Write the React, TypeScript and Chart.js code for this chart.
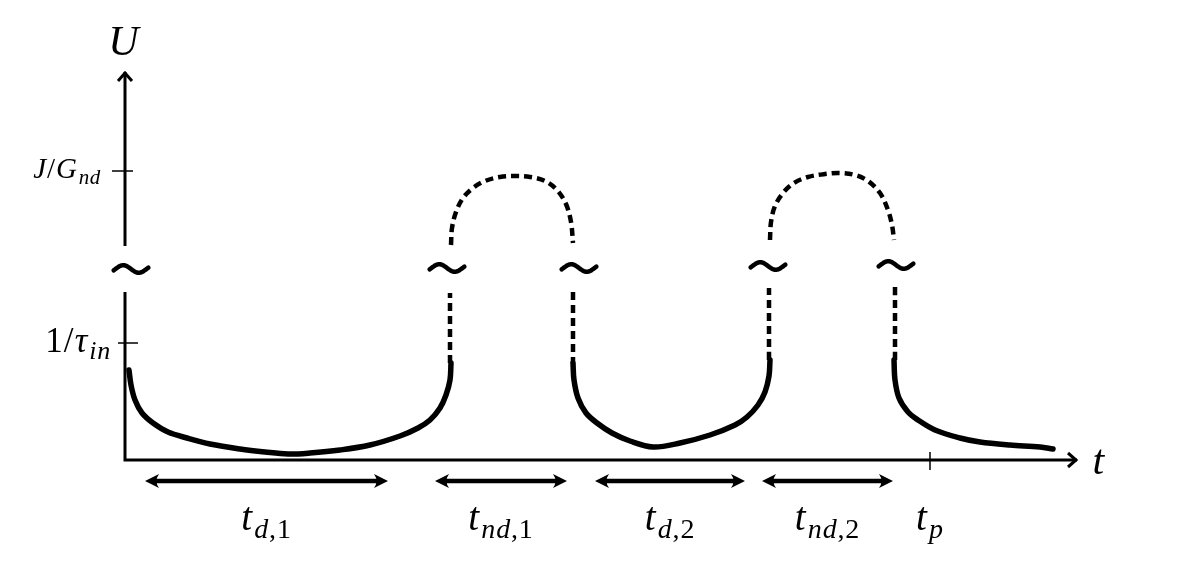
import React, { useEffect, useRef } from "react";
import { Chart, registerables } from "chart.js";

Chart.register(...registerables);

// ---------- data (t, U in arbitrary units) ----------
const curveDecay1 = [
  [0.4, 9.0], [0.6, 7.5], [1.0, 6.0], [1.7, 4.7], [2.8, 3.7], [4.3, 2.8], [6.2, 2.2],
  [8.5, 1.6], [11.5, 1.1], [14.0, 0.8], [16.3, 0.6], [18.5, 0.7], [21.5, 1.0], [24.5, 1.5],
  [27.5, 2.4], [29.3, 3.2], [30.5, 4.0], [31.5, 5.2], [32.1, 6.5], [32.5, 8.0], [32.6, 9.7],
];
const curveDecay2 = [
  [44.8, 9.7], [44.9, 8.0], [45.3, 6.2], [46.1, 4.7], [47.2, 3.7], [48.7, 2.7], [50.5, 1.9],
  [52.8, 1.3], [55.5, 1.7], [58.5, 2.5], [61.0, 3.5], [62.2, 4.3], [63.3, 5.5], [64.0, 6.8],
  [64.4, 8.4], [64.5, 10.0],
];
const curveDecay3 = [
  [76.9, 10.0], [77.0, 8.0], [77.4, 6.2], [78.3, 4.8], [79.3, 4.0], [81.0, 3.0], [83.5, 2.2],
  [85.5, 1.8], [88.5, 1.5], [91.5, 1.3], [92.8, 1.1],
];
const riseLow1a = [[32.5, 9.7], [32.5, 16.7]];
const riseArc1 = [
  [32.6, 21.5], [32.7, 23.2], [33.1, 24.8], [33.8, 26.2], [34.8, 27.2], [36.0, 27.9],
  [37.5, 28.3], [39.0, 28.4], [40.5, 28.3], [42.0, 27.9], [43.2, 27.0], [44.1, 25.6],
  [44.6, 23.8], [44.8, 21.7],
];
const riseLow1b = [[44.8, 16.8], [44.8, 9.7]];
const riseLow2a = [[64.4, 10.0], [64.4, 17.2]];
const riseArc2 = [
  [64.5, 22.0], [64.6, 23.8], [65.0, 25.4], [65.8, 26.7], [66.9, 27.7], [68.3, 28.3],
  [70.0, 28.6], [71.5, 28.7], [73.0, 28.5], [74.3, 27.9], [75.5, 26.7], [76.3, 25.0],
  [76.7, 23.5], [76.9, 22.0],
];
const riseLow2b = [[77.0, 17.3], [77.0, 10.0]];

// axis-break marks (~)
const breakMarks = [[0.6, 19.1], [32.2, 19.2], [45.4, 19.2], [64.3, 19.4], [77.1, 19.5]];

// y-axis ticks
const yTickValues = [28.9, 11.7];
const yTickLabels = ["J/G_nd", "1/τ_in"];
// x-axis ticks
const xTickValues = [80.5];
const xTickLabels = ["t_p"];

// intervals below the axis
const intervalStarts = [2.0, 31.0, 47.0, 63.7];
const intervalEnds = [26.3, 44.2, 62.0, 76.8];
const intervalLabels = ["t_d,1", "t_nd,1", "t_d,2", "t_nd,2"];

const axisLabels = ["t", "U"];
const yAxisTop = 38.8;
const xAxisEnd = 95.2;
const yBreakLow = 16.8;
const yBreakHigh = 21.4;
const intervalLevel = -2.1;
const labelLevel = -7.0;

// ---------- styles ----------
const W = 1200;
const H = 583;
const X_MIN = -12.5, X_MAX = 107.5, Y_MIN = -12.3, Y_MAX = 46.0;
const FONT = '"Liberation Serif", "DejaVu Serif", serif';
const yTickStyles = [
  { size: 29, sub: 21, gap: 11, left: 13, right: 8 },
  { size: 35, sub: 26, gap: 7, left: 7, right: 13 },
];
const LABEL_SIZE = 39;
const LABEL_SUB = 28;

function parseLabel(s: string) {
  const i = s.indexOf("_");
  return i < 0 ? { main: s, sub: "" } : { main: s.slice(0, i), sub: s.slice(i + 1) };
}
function fontFor(ch: string, size: number) {
  const upright = /[0-9\/,()]/.test(ch);
  return `${upright ? "" : "italic "}${size}px ${FONT}`;
}
function textWidth(ctx: CanvasRenderingContext2D, text: string, size: number) {
  let w = 0;
  for (const ch of text) {
    ctx.font = fontFor(ch, size);
    w += ctx.measureText(ch).width + size * 0.03;
  }
  return w;
}
function drawRun(ctx: CanvasRenderingContext2D, text: string, size: number, x: number, y: number) {
  let cx = x;
  for (const ch of text) {
    ctx.font = fontFor(ch, size);
    ctx.fillText(ch, cx, y);
    cx += ctx.measureText(ch).width + size * 0.03;
  }
  return cx;
}
function drawRich(
  ctx: CanvasRenderingContext2D, label: string, x: number, y: number,
  size: number, subSize: number, align: "left" | "center" | "right"
) {
  const { main, sub } = parseLabel(label);
  const wMain = textWidth(ctx, main, size);
  const wSub = sub ? textWidth(ctx, sub, subSize) + 1 : 0;
  const total = wMain + wSub;
  let sx = x;
  if (align === "center") sx = x - total / 2;
  if (align === "right") sx = x - total;
  ctx.textAlign = "left";
  ctx.textBaseline = "alphabetic";
  const ex = drawRun(ctx, main, size, sx, y);
  if (sub) drawRun(ctx, sub, subSize, ex + 1, y + size * 0.2);
}
function drawTilde(ctx: CanvasRenderingContext2D, cx: number, cy: number) {
  const w = 31, a = 3.8;
  ctx.beginPath();
  for (let i = 0; i <= 30; i++) {
    const s = -0.06 + (1.12 * i) / 30;
    const x = cx + (s - 0.5) * w;
    const y = cy - a * Math.sin(2 * Math.PI * s);
    if (i === 0) ctx.moveTo(x, y);
    else ctx.lineTo(x, y);
  }
  ctx.lineWidth = 4.5;
  ctx.lineCap = "round";
  ctx.lineJoin = "round";
  ctx.stroke();
}
function drawHead(ctx: CanvasRenderingContext2D, x: number, y: number, dir: number) {
  ctx.beginPath();
  ctx.moveTo(x, y);
  ctx.lineTo(x - dir * 14, y - 7);
  ctx.quadraticCurveTo(x - dir * 9, y, x - dir * 14, y + 7);
  ctx.closePath();
  ctx.fill();
}

const overlay = {
  id: "schematic",
  afterDatasetsDraw(chart: any) {
    const ctx: CanvasRenderingContext2D = chart.ctx;
    const xs = chart.scales.x, ys = chart.scales.y;
    const X = (v: number) => xs.getPixelForValue(v);
    const Y = (v: number) => ys.getPixelForValue(v);
    ctx.save();
    ctx.strokeStyle = "#000";
    ctx.fillStyle = "#000";
    const x0 = X(0), y0 = Y(0);

    // axes
    ctx.lineWidth = 3;
    ctx.lineCap = "butt";
    ctx.beginPath();
    ctx.moveTo(x0, y0 + 1.5);
    ctx.lineTo(x0, Y(yBreakLow));
    ctx.moveTo(x0, Y(yBreakHigh));
    ctx.lineTo(x0, Y(yAxisTop));
    ctx.moveTo(x0 - 1.5, y0);
    ctx.lineTo(X(xAxisEnd), y0);
    ctx.stroke();
    ctx.lineJoin = "miter";
    ctx.beginPath();
    const ty = Y(yAxisTop);
    ctx.moveTo(x0 - 7, ty + 9);
    ctx.lineTo(x0, ty + 1);
    ctx.lineTo(x0 + 7, ty + 9);
    const tx = X(xAxisEnd);
    ctx.moveTo(tx - 9, y0 - 7);
    ctx.lineTo(tx - 1, y0);
    ctx.lineTo(tx - 9, y0 + 7);
    ctx.stroke();

    // ticks
    ctx.lineWidth = 1.5;
    yTickValues.forEach((v, i) => {
      const st = yTickStyles[i];
      const py = Y(v);
      ctx.beginPath();
      ctx.moveTo(x0 - st.left, py);
      ctx.lineTo(x0 + st.right, py);
      ctx.stroke();
      drawRich(ctx, yTickLabels[i], x0 - st.left - st.gap, py + st.size * 0.25, st.size, st.sub, "right");
    });
    xTickValues.forEach((v, i) => {
      const px = X(v);
      ctx.beginPath();
      ctx.moveTo(px, y0 - 8);
      ctx.lineTo(px, y0 + 10);
      ctx.stroke();
      drawRich(ctx, xTickLabels[i], px, Y(labelLevel), LABEL_SIZE, LABEL_SUB, "center");
    });

    // break marks
    breakMarks.forEach(([t, u]) => drawTilde(ctx, X(t), Y(u)));

    // intervals
    intervalStarts.forEach((a, i) => {
      const b = intervalEnds[i];
      const xa = X(a), xb = X(b), py = Y(intervalLevel);
      ctx.lineWidth = 4.5;
      ctx.lineCap = "butt";
      ctx.beginPath();
      ctx.moveTo(xa + 8, py);
      ctx.lineTo(xb - 8, py);
      ctx.stroke();
      drawHead(ctx, xa, py, -1);
      drawHead(ctx, xb, py, 1);
      drawRich(ctx, intervalLabels[i], (xa + xb) / 2, Y(labelLevel), LABEL_SIZE, LABEL_SUB, "center");
    });

    // axis names
    drawRich(ctx, axisLabels[0], tx + 22, y0 + 14, 42, 30, "center");
    drawRich(ctx, axisLabels[1], x0 - 1, Y(yAxisTop) - 17, 42, 30, "center");
    ctx.restore();
  },
};

const toPts = (arr: number[][]) => arr.map(([x, y]) => ({ x, y }));

export default function App() {
  const ref = useRef<HTMLCanvasElement | null>(null);
  useEffect(() => {
    if (!ref.current) return;
    const solid = (d: number[][]) => ({
      data: toPts(d), showLine: true, borderColor: "#000", borderWidth: 5.5,
      pointRadius: 0, tension: 0.35, borderCapStyle: "round", borderJoinStyle: "round",
    });
    const dashed = (d: number[][]) => ({
      data: toPts(d), showLine: true, borderColor: "#000", borderWidth: 4.5,
      pointRadius: 0, tension: 0.35, borderDash: [8, 5], borderCapStyle: "butt",
    });
    const chart = new Chart(ref.current, {
      type: "scatter",
      data: {
        datasets: [
          solid(curveDecay1), solid(curveDecay2), solid(curveDecay3),
          dashed(riseLow1a), dashed(riseArc1), dashed(riseLow1b),
          dashed(riseLow2a), dashed(riseArc2), dashed(riseLow2b),
        ] as any,
      },
      options: {
        responsive: false,
        animation: false,
        devicePixelRatio: 1,
        layout: { padding: 0 },
        plugins: { legend: { display: false }, tooltip: { enabled: false } },
        scales: {
          x: { type: "linear", min: X_MIN, max: X_MAX, display: false },
          y: { type: "linear", min: Y_MIN, max: Y_MAX, display: false },
        },
      },
      plugins: [overlay],
    });
    return () => chart.destroy();
  }, []);
  return (
    <div style={{ position: "fixed", left: 0, top: 0, width: W, height: H, background: "#fff" }}>
      <canvas ref={ref} width={W} height={H} style={{ display: "block", width: W, height: H }} />
    </div>
  );
}
